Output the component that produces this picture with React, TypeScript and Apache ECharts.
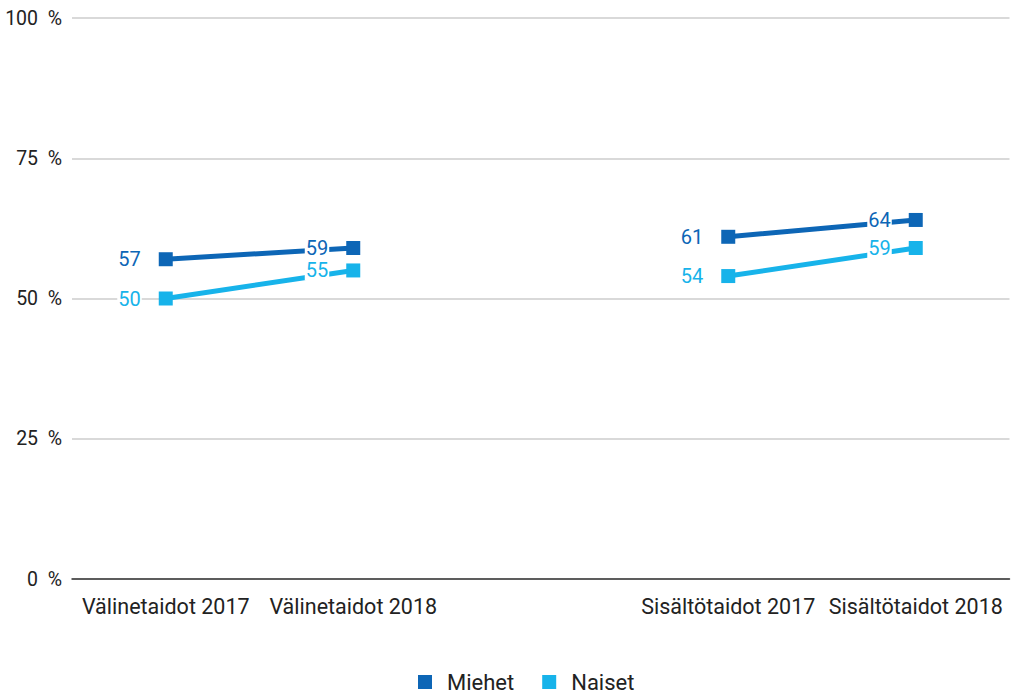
import React, { useEffect, useRef } from "react";
import * as echarts from "echarts";

const categories = ["Välinetaidot 2017", "Välinetaidot 2018", "", "Sisältötaidot 2017", "Sisältötaidot 2018"];
const miehet: (number | string)[] = [57, 59, "-", 61, 64];
const naiset: (number | string)[] = [50, 55, "-", 54, 59];
const yTicks = [0, 25, 50, 75, 100];

const DARK = "#0d66b6";
const LIGHT = "#17b3ea";

export default function App() {
  const ref = useRef<HTMLDivElement>(null);
  useEffect(() => {
    const chart = echarts.init(ref.current!, null, { renderer: "svg" });
    const mk = (name: string, data: (number | string)[], color: string, z: number) => ({
      name,
      type: "line",
      data,
      z,
      symbol: "rect",
      symbolSize: 14,
      connectNulls: false,
      lineStyle: { width: 5, color },
      itemStyle: { color },
      label: {
        show: true,
        position: "left",
        distance: 17,
        color,
        fontSize: 20,
        fontFamily: "Roboto",
        backgroundColor: "#fff",
        padding: [0, 1],
      },
    });
    chart.setOption({
      animation: false,
      backgroundColor: "#fff",
      grid: { left: 72, right: 1.5, top: 18, bottom: 119, containLabel: false },
      legend: {
        top: 671,
        left: 418,
        padding: 0,
        itemWidth: 14,
        itemHeight: 14,
        itemGap: 28,
        icon: "rect",
        textStyle: { fontSize: 22, lineHeight: 22, fontFamily: "Roboto", color: "#222", padding: [0, 0, 0, 10] },
        data: ["Miehet", "Naiset"],
      },
      xAxis: {
        type: "category",
        data: categories,
        boundaryGap: true,
        axisLine: { lineStyle: { color: "#333", width: 1.5 } },
        axisTick: { show: false },
        axisLabel: { fontSize: 21.5, fontFamily: "Roboto", color: "#222", margin: 16, interval: 0 },
      },
      yAxis: {
        type: "value",
        min: yTicks[0],
        max: yTicks[yTicks.length - 1],
        interval: 25,
        axisLine: { show: false },
        axisTick: { show: false },
        splitLine: { lineStyle: { color: "#cccccc", width: 1.5 } },
        axisLabel: { fontSize: 19.5, fontFamily: "Roboto", color: "#222", margin: 10, formatter: "{value}  %" },
      },
      series: [mk("Miehet", miehet, DARK, 3), mk("Naiset", naiset, LIGHT, 2)],
    });
    return () => chart.dispose();
  }, []);
  return <div ref={ref} style={{ position: "fixed", left: 0, top: 0, width: 1011, height: 698 }} />;
}
